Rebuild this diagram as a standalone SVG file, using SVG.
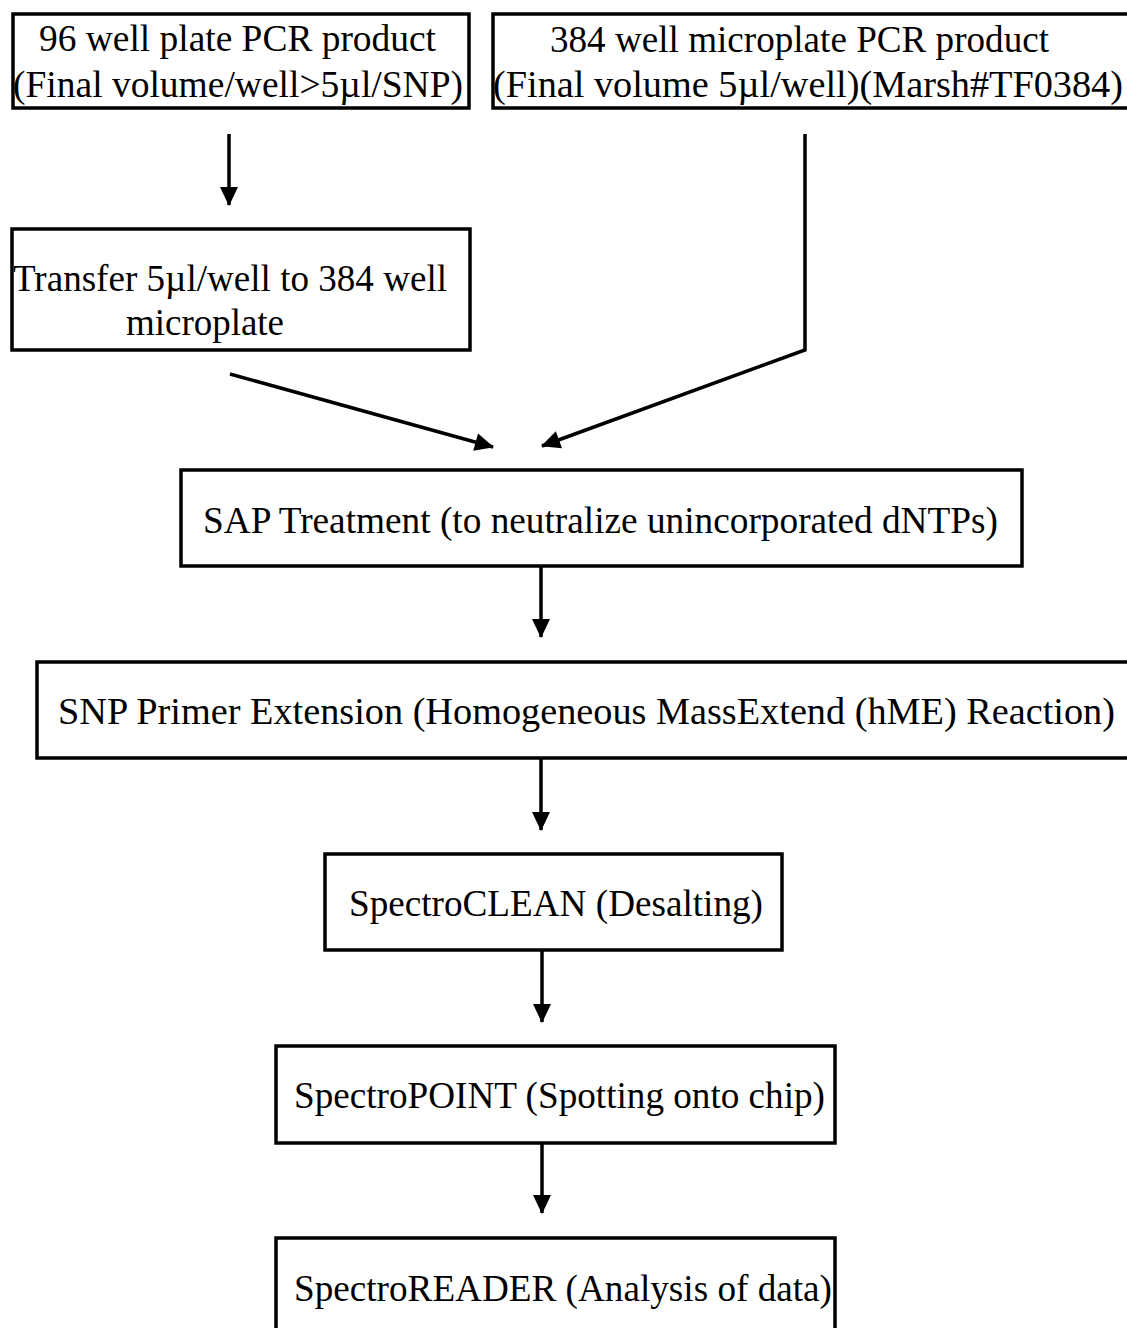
<svg xmlns="http://www.w3.org/2000/svg" width="1127" height="1328" viewBox="0 0 1127 1328">
<style>
.box{fill:#fff;stroke:#000;stroke-width:3.5}
.t{font-family:"Liberation Serif","Times New Roman",serif;font-size:37px;fill:#000}
.c{fill:none;stroke:#000;stroke-width:3.5}
</style>
<defs>
<marker id="ah" markerUnits="userSpaceOnUse" viewBox="0 0 20 20" markerWidth="20" markerHeight="20" refX="18" refY="10" orient="auto" overflow="visible">
<path d="M0,1 L19,10 L0,19 Z" fill="#000"/>
</marker>
</defs>
<rect width="1127" height="1328" fill="#fff"/>
<g id="n1">
<rect class="box" x="13" y="14" width="456" height="94"/>
<text class="t" x="39" y="51" textLength="397" lengthAdjust="spacingAndGlyphs">96 well plate PCR product</text>
<text class="t" x="13" y="97" textLength="450" lengthAdjust="spacingAndGlyphs">(Final volume/well&gt;5µl/SNP)</text>
</g>
<g id="n2">
<rect class="box" x="493" y="14" width="636" height="94"/>
<text class="t" x="550" y="52" textLength="499" lengthAdjust="spacingAndGlyphs">384 well microplate PCR product</text>
<text class="t" x="493" y="97" textLength="630" lengthAdjust="spacingAndGlyphs">(Final volume 5µl/well)(Marsh#TF0384)</text>
</g>
<g id="n3">
<rect class="box" x="12" y="229" width="458" height="121"/>
<text class="t" x="13" y="291" textLength="434" lengthAdjust="spacingAndGlyphs">Transfer 5µl/well to 384 well</text>
<text class="t" x="126" y="335" textLength="158" lengthAdjust="spacingAndGlyphs">microplate</text>
</g>
<g id="n4">
<rect class="box" x="181" y="470" width="841" height="96"/>
<text class="t" x="203" y="533" textLength="795" lengthAdjust="spacingAndGlyphs">SAP Treatment (to neutralize unincorporated dNTPs)</text>
</g>
<g id="n5">
<rect class="box" x="37" y="662" width="1093" height="96"/>
<text class="t" x="58" y="724" textLength="1057" lengthAdjust="spacingAndGlyphs">SNP Primer Extension (Homogeneous MassExtend (hME) Reaction)</text>
</g>
<g id="n6">
<rect class="box" x="325" y="854" width="457" height="96"/>
<text class="t" x="349" y="916" textLength="414" lengthAdjust="spacingAndGlyphs">SpectroCLEAN (Desalting)</text>
</g>
<g id="n7">
<rect class="box" x="276" y="1046" width="559" height="97"/>
<text class="t" x="294" y="1108" textLength="531" lengthAdjust="spacingAndGlyphs">SpectroPOINT (Spotting onto chip)</text>
</g>
<g id="n8">
<rect class="box" x="276" y="1238" width="559" height="100"/>
<text class="t" x="294" y="1301" textLength="538" lengthAdjust="spacingAndGlyphs">SpectroREADER (Analysis of data)</text>
</g>
<g id="connectors">
<line class="c" x1="229" y1="134" x2="229" y2="205" marker-end="url(#ah)"/>
<line class="c" x1="230" y1="374" x2="493" y2="447" marker-end="url(#ah)"/>
<polyline class="c" points="805,134 805,350 542,446" marker-end="url(#ah)"/>
<line class="c" x1="541" y1="567" x2="541" y2="637" marker-end="url(#ah)"/>
<line class="c" x1="541" y1="758" x2="541" y2="830" marker-end="url(#ah)"/>
<line class="c" x1="542" y1="950" x2="542" y2="1022" marker-end="url(#ah)"/>
<line class="c" x1="542" y1="1143" x2="542" y2="1213" marker-end="url(#ah)"/>
</g>
</svg>
